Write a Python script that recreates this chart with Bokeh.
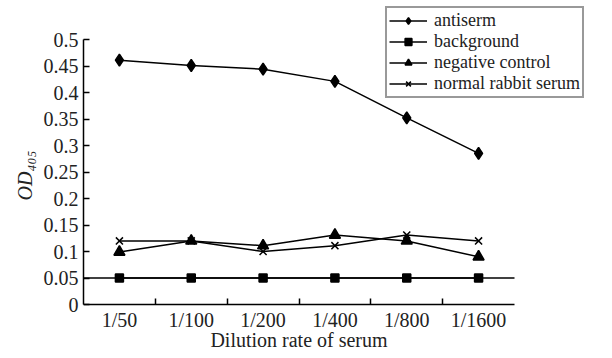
import numpy as np
from bokeh.plotting import figure
from bokeh.models import Range1d, FixedTicker, CustomJSTickFormatter, Legend, LegendItem, Label
from bokeh.embed import file_html
from bokeh.resources import INLINE

categories = ["1/50", "1/100", "1/200", "1/400", "1/800", "1/1600"]
antiserm = [0.461, 0.451, 0.444, 0.421, 0.352, 0.285]
background = [0.05, 0.05, 0.05, 0.05, 0.05, 0.05]
negative_control = [0.099, 0.120, 0.111, 0.131, 0.120, 0.090]
normal_rabbit_serum = [0.120, 0.120, 0.100, 0.111, 0.131, 0.120]
cutoff = 0.05
y_ticks = [0, 0.05, 0.1, 0.15, 0.2, 0.25, 0.3, 0.35, 0.4, 0.45, 0.5]
y_max = 0.5
x_title = "Dilution rate of serum"
y_title = "OD₄₀₅"

FONT = "Liberation Serif"
n = len(categories)
xs = list(np.arange(n) + 0.5)

# layout constants (pixels, canvas coordinates)
W, H = 596, 350
LEFT = 83
AXIS_W = 431          # pixel length of the x axis
AXIS_TOP = 39         # canvas y of y_max
AXIS_BOTTOM = 304     # canvas y of 0
TITLE_BELOW = 35      # x title centre below the x axis
frame_w = W - LEFT
px_x = AXIS_W / n
px_y = (AXIS_BOTTOM - AXIS_TOP) / y_max
x_end = frame_w / px_x
y_end = y_max + AXIS_TOP / px_y
y_start = -(H - AXIS_BOTTOM) / px_y

p = figure(width=W, height=H, output_backend="svg", toolbar_location=None, title=None,
           x_range=Range1d(0, x_end), y_range=Range1d(y_start, y_end),
           min_border_left=LEFT, min_border_right=0, min_border_top=0, min_border_bottom=0)
p.outline_line_color = None
p.grid.visible = False

xa = p.xaxis[0]
xa.fixed_location = 0
xa.bounds = (0, n)
xa.ticker = FixedTicker(ticks=xs, minor_ticks=list(range(1, n)))
xa.formatter = CustomJSTickFormatter(args=dict(labels=categories),
                                     code="return labels[Math.floor(tick)]")
xa.major_tick_in = 0
xa.major_tick_out = 0
xa.minor_tick_in = 6
xa.minor_tick_out = 0
xa.minor_tick_line_width = 1.5
xa.axis_line_width = 1.5
xa.major_label_text_font = FONT
xa.major_label_text_font_size = "20px"
xa.major_label_text_color = "#222222"
xa.major_label_standoff = 4

ya = p.yaxis[0]
ya.bounds = (0, y_max)
ya.ticker = FixedTicker(ticks=y_ticks, minor_ticks=[])
ya.formatter = CustomJSTickFormatter(code="return String(Number(tick.toFixed(2)))")
ya.major_tick_in = 6
ya.major_tick_out = 0
ya.major_tick_line_width = 1.5
ya.axis_line_width = 1.5
ya.major_label_text_font = FONT
ya.major_label_text_font_size = "20px"
ya.major_label_text_color = "#222222"
ya.major_label_standoff = 5
ya.axis_label = y_title
ya.axis_label_text_font = FONT
ya.axis_label_text_font_size = "20px"
ya.axis_label_text_font_style = "italic"
ya.axis_label_text_color = "#222222"
ya.axis_label_standoff = 5

# x axis title (axis sits at a fixed location, so its title is a label)
p.add_layout(Label(x=n / 2, y=-TITLE_BELOW / px_y, text=x_title, text_font=FONT,
                   text_font_size="20px", text_color="#222222",
                   text_align="center", text_baseline="middle"))

# cut-off line across the whole axis
p.segment(x0=[0], x1=[n], y0=[cutoff], y1=[cutoff], line_color="black", line_width=1.5)

items = []
specs = [
    ("antiserm", antiserm, "diamond", 12),
    ("background", background, "square", 8),
    ("negative control", negative_control, "triangle", 11),
    ("normal rabbit serum", normal_rabbit_serum, "x", 10),
]
for name, vals, marker, size in specs:
    l = p.line(xs, vals, line_color="black", line_width=1.5)
    s = p.scatter(xs, vals, marker=marker, size=size, fill_color="black",
                  line_color="black", line_width=1.5)
    items.append(LegendItem(label=name, renderers=[l, s]))

legend = Legend(items=items, location=(302, H - 98))
legend.label_text_font = FONT
legend.label_text_font_size = "18px"
legend.label_text_color = "#222222"
legend.label_height = 17
legend.glyph_height = 17
legend.glyph_width = 38
legend.label_standoff = 7
legend.spacing = 0
legend.padding = 2
legend.margin = 0
legend.border_line_color = "#333333"
legend.border_line_width = 2
legend.background_fill_alpha = 1
p.add_layout(legend)

open("out.html", "w").write(file_html(p, INLINE))
